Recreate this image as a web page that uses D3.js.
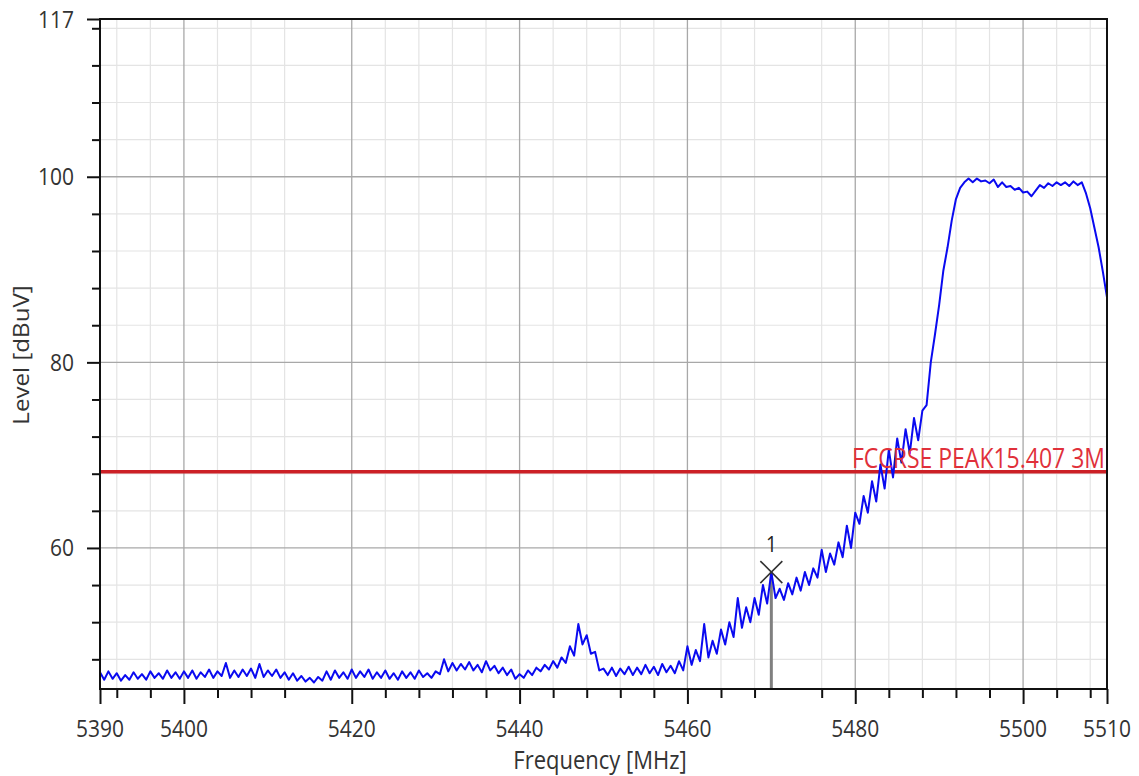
<!DOCTYPE html>
<html>
<head>
<meta charset="utf-8">
<script src="https://cdn.jsdelivr.net/npm/d3@7"></script>
<style>
  html, body { margin: 0; padding: 0; background: #fff; }
  svg { display: block; }
  text { font-family: "Open Sans", "DejaVu Sans", sans-serif; }
</style>
</head>
<body>
<svg id="chart" width="1139" height="776"></svg>
<script>
// ---------------- data ----------------
const freqStart = 5390;      // MHz
const freqStep = 0.5;        // MHz between trace samples
const levels = [
  // 5390 - 5400
  46.6, 45.8, 46.7, 45.9, 46.5, 45.7, 46.3, 45.8, 46.6, 45.9, 46.4, 45.8, 46.7, 46.0, 46.5, 45.9, 46.8, 46.0, 46.6, 45.9, 46.7,
  // 5400.5 - 5410
  46.0, 46.8, 45.9, 46.6, 46.1, 46.9, 46.0, 46.7, 46.2, 47.6, 46.0, 46.8, 46.1, 46.9, 46.2, 47.0, 46.0, 47.5, 46.1, 46.8,
  // 5410.5 - 5420
  46.2, 46.9, 46.0, 46.6, 45.8, 46.5, 45.7, 46.2, 45.6, 46.0, 45.5, 46.1, 45.7, 46.7, 45.8, 46.8, 46.0, 46.6, 45.9, 46.9,
  // 5420.5 - 5430
  46.0, 46.7, 46.1, 46.9, 45.9, 46.6, 46.0, 46.8, 45.9, 46.5, 45.8, 46.7, 46.0, 46.6, 45.9, 46.8, 46.1, 46.5, 46.0, 46.7,
  // 5430.5 - 5440
  46.4, 48.0, 46.7, 47.6, 46.8, 47.5, 46.9, 47.7, 46.8, 47.4, 46.6, 47.8, 46.8, 47.3, 46.5, 47.1, 46.3, 46.9, 45.9, 46.4,
  // 5440.5 - 5450
  46.0, 46.8, 46.3, 47.1, 46.7, 47.4, 46.9, 47.8, 47.1, 48.2, 47.6, 49.4, 48.4, 51.8, 49.6, 50.6, 48.6, 48.8, 46.8, 47.0,
  // 5450.5 - 5460
  46.3, 47.1, 46.2, 47.0, 46.4, 47.2, 46.3, 47.1, 46.4, 47.4, 46.5, 47.2, 46.3, 47.5, 46.6, 47.3, 46.5, 47.8, 46.8, 49.4,
  // 5460.5 - 5470
  47.4, 49.0, 47.8, 51.8, 48.2, 50.0, 48.6, 51.2, 49.6, 52.0, 50.4, 54.6, 51.4, 53.6, 52.0, 54.6, 52.8, 56.0, 54.0, 57.4,
  // 5470.5 - 5480
  54.6, 55.6, 54.4, 56.2, 55.0, 56.8, 55.4, 57.4, 56.0, 57.8, 56.8, 59.8, 57.4, 59.4, 58.2, 60.6, 59.0, 62.4, 60.0, 63.8,
  // 5480.5 - 5490
  62.6, 65.6, 63.8, 67.2, 65.0, 69.0, 66.4, 70.6, 67.6, 71.8, 69.2, 72.8, 70.2, 74.0, 71.6, 74.8, 75.4, 80.0, 83.0, 86.2,
  // 5490.5 - 5500
  89.9, 92.4, 95.3, 97.6, 98.8, 99.4, 99.8, 99.4, 99.8, 99.5, 99.6, 99.3, 99.7, 98.9, 99.4, 98.9, 99.0, 98.6, 98.8, 98.3,
  // 5500.5 - 5510
  98.4, 97.9, 98.5, 99.1, 98.8, 99.3, 99.0, 99.4, 99.1, 99.4, 99.0, 99.5, 99.1, 99.4, 98.2, 96.6, 94.5, 92.4, 89.8, 87.0
];

const xDomain = [5390, 5510];
const yDomain = [44.8, 117];
const xMajorTicks = [5390, 5400, 5420, 5440, 5460, 5480, 5500, 5510];
const xMajorGrid = [5400, 5420, 5440, 5460, 5480, 5500];
const xMinorTicks = [5392, 5396, 5404, 5408, 5412, 5424, 5428, 5432, 5436, 5444, 5448, 5452, 5456,
                     5464, 5468, 5476, 5484, 5488, 5492, 5496, 5504, 5508];
const yMajorTicks = [60, 80, 100, 117];
const yMajorGrid = [60, 80, 100];
const yMinorTicks = [48, 52, 56, 64, 68, 72, 76, 84, 88, 92, 96, 104, 108, 112, 116];

const limitLevel = 68.2;
const limitLabel = "FCCRSE PEAK15.407 3M";
const markerFreq = 5470;
const markerLevel = 57.4;
const markerLabel = "1";
const xTitle = "Frequency [MHz]";
const yTitle = "Level [dBuV]";

// ---------------- layout ----------------
const L = 100, R = 1107, T = 19, B = 689;
const svg = d3.select("#chart");
const x = d3.scaleLinear().domain(xDomain).range([L, R]);
const y = d3.scaleLinear().domain(yDomain).range([B, T]);
const SY = 1.15; // vertical stretch of the text in the reference

const trace = levels.map((v, i) => ({ f: freqStart + i * freqStep, v }));

// grid: minor first
const grid = svg.append("g");
grid.selectAll(".vmin").data(xMinorTicks).join("line")
  .attr("x1", d => x(d)).attr("x2", d => x(d)).attr("y1", T).attr("y2", B)
  .attr("stroke", "#e4e4e4").attr("stroke-width", 1.2);
grid.selectAll(".hmin").data(yMinorTicks).join("line")
  .attr("x1", L).attr("x2", R).attr("y1", d => y(d)).attr("y2", d => y(d))
  .attr("stroke", "#e4e4e4").attr("stroke-width", 1.2);
grid.selectAll(".vmaj").data(xMajorGrid).join("line")
  .attr("x1", d => x(d)).attr("x2", d => x(d)).attr("y1", T).attr("y2", B)
  .attr("stroke", "#a8a8a8").attr("stroke-width", 1.3);
grid.selectAll(".hmaj").data(yMajorGrid).join("line")
  .attr("x1", L).attr("x2", R).attr("y1", d => y(d)).attr("y2", d => y(d))
  .attr("stroke", "#a8a8a8").attr("stroke-width", 1.3);

// limit line
svg.append("line")
  .attr("x1", L).attr("x2", R).attr("y1", y(limitLevel)).attr("y2", y(limitLevel))
  .attr("stroke", "#cc2026").attr("stroke-width", 3.5);

// marker stem
svg.append("line")
  .attr("x1", x(markerFreq)).attr("x2", x(markerFreq))
  .attr("y1", y(markerLevel)).attr("y2", B)
  .attr("stroke", "#808080").attr("stroke-width", 3);

// trace
svg.append("path").datum(trace)
  .attr("fill", "none").attr("stroke", "#0a0af0").attr("stroke-width", 2)
  .attr("stroke-linejoin", "round")
  .attr("d", d3.line().x(d => x(d.f)).y(d => y(d.v)));

// limit label
svg.append("text")
  .attr("transform", `translate(${R - 2},${y(limitLevel) - 4}) scale(1,${SY})`)
  .attr("text-anchor", "end").attr("fill", "#e0303a")
  .attr("font-size", 23).text(limitLabel);

// marker X and label
const mx = x(markerFreq), my = y(markerLevel), ms = 11;
svg.append("path")
  .attr("d", `M${mx - ms},${my - ms}L${mx + ms},${my + ms}M${mx - ms},${my + ms}L${mx + ms},${my - ms}`)
  .attr("stroke", "#333").attr("stroke-width", 1.6).attr("fill", "none");
svg.append("text")
  .attr("transform", `translate(${mx},${my - 20}) scale(1,${SY})`)
  .attr("text-anchor", "middle").attr("fill", "#222")
  .attr("font-family", "'DejaVu Serif', serif")
  .attr("font-size", 19).text(markerLabel);

// frame
svg.append("rect").attr("x", L).attr("y", T).attr("width", R - L).attr("height", B - T)
  .attr("fill", "none").attr("stroke", "#111").attr("stroke-width", 2);

// axes ticks
const axStyle = g => {
  g.select(".domain").remove();
  g.selectAll(".tick line").attr("stroke", "#111").attr("stroke-width", 2);
  g.selectAll(".tick text").remove();
};
svg.append("g").attr("transform", `translate(0,${B})`)
  .call(d3.axisBottom(x).tickValues(xMajorTicks).tickSize(15)).call(axStyle);
svg.append("g").attr("transform", `translate(0,${B})`)
  .call(d3.axisBottom(x).tickValues(xMinorTicks).tickSize(9)).call(axStyle);
svg.append("g").attr("transform", `translate(${L},0)`)
  .call(d3.axisLeft(y).tickValues(yMajorTicks).tickSize(13)).call(axStyle);
svg.append("g").attr("transform", `translate(${L},0)`)
  .call(d3.axisLeft(y).tickValues(yMinorTicks).tickSize(8)).call(axStyle);

// tick labels
svg.append("g").selectAll("text").data(xMajorTicks).join("text")
  .attr("transform", d => `translate(${x(d)},${737}) scale(1,${SY})`)
  .attr("text-anchor", "middle").attr("fill", "#333").attr("font-size", 21)
  .text(d => d);
svg.append("g").selectAll("text").data(yMajorTicks).join("text")
  .attr("transform", d => `translate(${L - 26},${y(d) + 8.5}) scale(1,${SY})`)
  .attr("text-anchor", "end").attr("fill", "#333").attr("font-size", 21)
  .text(d => d);

// axis titles
svg.append("text")
  .attr("transform", `translate(600,${769}) scale(1,${SY})`)
  .attr("text-anchor", "middle").attr("fill", "#333").attr("font-size", 22)
  .text(xTitle);
svg.append("text")
  .attr("transform", `translate(${29},${355}) rotate(-90) scale(${SY},1)`)
  .attr("text-anchor", "middle").attr("fill", "#333").attr("font-size", 21)
  .text(yTitle);
</script>
</body>
</html>
